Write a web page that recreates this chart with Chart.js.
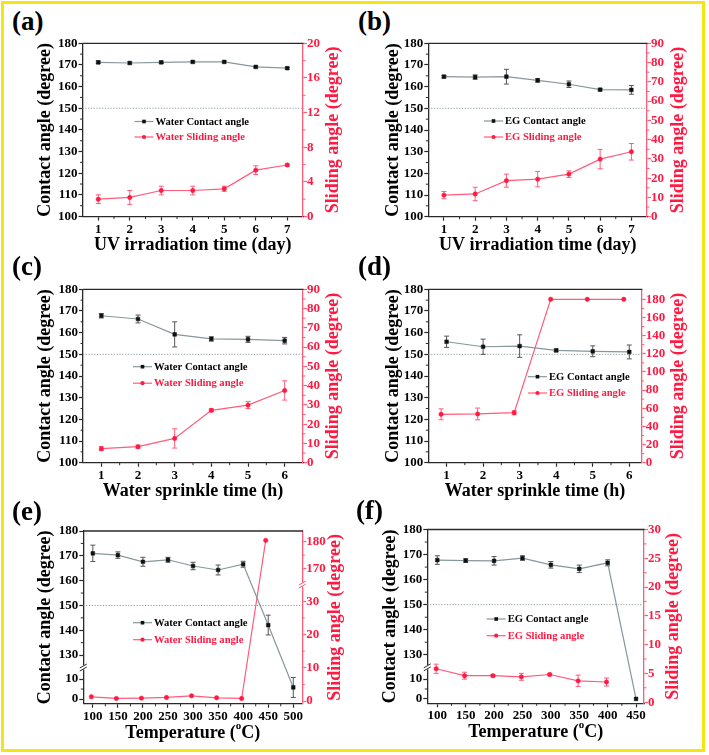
<!DOCTYPE html>
<html>
<head>
<meta charset="utf-8">
<script src="https://cdn.jsdelivr.net/npm/chart.js@4.4.1/dist/chart.umd.min.js"></script>
<style>
  body { margin: 0; background: #fff; }
  #fig { position: relative; width: 709px; height: 755px; overflow: hidden; background: #fff; }
  #fig canvas { position: absolute; }
  .lbl { position: absolute; font: bold 27px "Liberation Serif", "Times New Roman", serif; line-height: 1; color: #000; }
  #frame { position: absolute; left: 1px; top: 1px; width: 704px; height: 751px; box-sizing: border-box;
           border: 3.5px solid #f5e512; pointer-events: none; z-index: 5; }
</style>
</head>
<body>
<div id="fig"><div id="frame"></div></div>
<script>
const SERIF = '"Liberation Serif", "Times New Roman", serif';
const RED = '#ff1a42';
const RED_LINE = '#ff5c7a';
const GREY_LINE = '#87979a';
const INK = '#2a2a2a';

// ---- tick labels ----
const dayTicks = [1, 2, 3, 4, 5, 6, 7];
const hourTicks = [1, 2, 3, 4, 5, 6];
const tempTicksWater = [100, 150, 200, 250, 300, 350, 400, 450, 500];
const tempTicksEg = [100, 150, 200, 250, 300, 350, 400, 450];
const contactTicks = [100, 110, 120, 130, 140, 150, 160, 170, 180];
const contactTicksBroken = [0, 10, 130, 140, 150, 160, 170, 180];
const slideTicks20 = [0, 4, 8, 12, 16, 20];
const slideTicks90 = [0, 10, 20, 30, 40, 50, 60, 70, 80, 90];
const slideTicks180 = [0, 20, 40, 60, 80, 100, 120, 140, 160, 180];
const slideTicksBroken = [0, 10, 20, 30, 170, 180];
const slideTicks30 = [0, 5, 10, 15, 20, 25, 30];

// ---- (a) water, UV ----
const uvDays = [1, 2, 3, 4, 5, 6, 7];
const waterUvContact = [171.2, 170.9, 171.2, 171.4, 171.4, 169.1, 168.5];
const waterUvContactErr = [0.6, 0.5, 0.5, 0.4, 0.4, 0.4, 0.4];
const waterUvSliding = [2.0, 2.2, 3.0, 3.0, 3.2, 5.35, 5.95];
const waterUvSlidingErr = [0.5, 0.8, 0.5, 0.5, 0.3, 0.5, 0.1];

// ---- (b) EG, UV ----
const egUvContact = [164.6, 164.4, 164.6, 162.9, 161.1, 158.6, 158.5];
const egUvContactErr = [0.6, 1.0, 3.4, 0.8, 1.5, 0.5, 2.0];
const egUvSliding = [11.2, 11.8, 18.7, 19.5, 22.1, 29.9, 33.7];
const egUvSlidingErr = [1.9, 3.5, 3.4, 4.0, 1.7, 5.0, 4.3];

// ---- (c) water, sprinkle ----
const sprinkleHours = [1, 2, 3, 4, 5, 6];
const waterSprContact = [167.8, 166.3, 159.2, 157.1, 156.9, 156.3];
const waterSprContactErr = [1.0, 1.8, 5.8, 1.0, 1.4, 1.5];
const waterSprSliding = [7.3, 8.3, 12.6, 27.2, 29.9, 37.5];
const waterSprSlidingErr = [1.0, 0.8, 5.0, 0.8, 1.8, 5.0];

// ---- (d) EG, sprinkle ----
const egSprContact = [155.8, 153.5, 153.8, 151.8, 151.4, 151.1];
const egSprContactErr = [2.6, 3.5, 5.2, 0.6, 2.5, 3.2];
const egSprSlidingHours = [0.85, 1.85, 2.85, 3.85, 4.85, 5.85];
const egSprSliding = [53.3, 53.7, 55.1, 180, 180, 180];
const egSprSlidingErr = [6.0, 6.5, 2.2, 0, 0, 0];

// ---- (e) water, temperature ----
const tempsWater = [100, 150, 200, 250, 300, 350, 400, 450, 500];
const waterTempContact = [171.0, 170.3, 167.6, 168.4, 165.9, 164.3, 166.6, 142.1, 5.8];
const waterTempContactErr = [3.3, 1.3, 1.8, 1.0, 1.5, 2.0, 1.2, 4.0, 5.0];
const tempsWaterSliding = [97, 147, 197, 247, 297, 347, 397, 445];
const waterTempSliding = [1.3, 0.8, 0.9, 1.1, 1.6, 1.0, 0.8, 180.5];
const waterTempSlidingErr = [0, 0, 0, 0, 0, 0, 0, 0];

// ---- (f) EG, temperature ----
const tempsEg = [100, 150, 200, 250, 300, 350, 400, 450];
const egTempContact = [167.8, 167.6, 167.5, 168.6, 165.9, 164.3, 166.7, 0];
const egTempContactErr = [1.7, 0.7, 1.7, 0.9, 1.3, 1.5, 1.2, 0];
const tempsEgSliding = [98, 148, 198, 248, 298, 348, 398];
const egTempSliding = [5.8, 4.6, 4.6, 4.4, 4.8, 3.7, 3.5];
const egTempSlidingErr = [0.8, 0.6, 0.2, 0.6, 0.2, 1.0, 0.7];

// broken axes: value ranges and the share of the axis height each one takes
const BROKEN_SEGMENTS = {
  panelE: {
    y: [{ from: -2.4, to: 15.8, f0: 0, f1: 0.21 }, { from: 125, to: 180, f0: 0.21, f1: 1 }],
    y1: [{ from: -0.8, to: 35, f0: 0, f1: 0.69 }, { from: 164, to: 184, f0: 0.69, f1: 1 }]
  },
  panelF: {
    y: [{ from: -2.2, to: 15.9, f0: 0, f1: 0.207 }, { from: 125, to: 180, f0: 0.207, f1: 1 }]
  }
};

const LinearBase = Chart.LinearScale || Chart.registry.getScale('linear');
class BrokenScale extends LinearBase {
  segs() {
    const m = BROKEN_SEGMENTS[this.chart.canvas.id];
    return m && m[this.id];
  }
  getPixelForValue(value) {
    const segs = this.segs();
    if (value === null || value === undefined || !segs) return super.getPixelForValue(value);
    for (let i = 0; i < segs.length; i++) {
      const s = segs[i];
      if (value <= s.to || i === segs.length - 1) {
        const v = (i > 0 && value < s.from) ? s.from : value;
        return this.getPixelForDecimal(s.f0 + (v - s.from) / (s.to - s.from) * (s.f1 - s.f0));
      }
    }
  }
}
BrokenScale.id = 'broken';
BrokenScale.defaults = LinearBase.defaults;
Chart.register(BrokenScale);

const panels = [
  { id: 'panelA', letter: '(a)', lx: 12, ly: 7.5, cx: 0, cy: 0, w: 355, h: 265,
    L: 82.5, R: 303, T: 43.3, B: 216.5,
    xMin: 0.5, xMax: 7.5, xTicks: dayTicks, xTitle: 'UV irradiation time (day)', xTitleY: 245,
    yMin: 100, yMax: 180, yTicks: contactTicks, leftTitleX: 45.3,
    y1Min: 0, y1Max: 20, y1Ticks: slideTicks20, rightTitleX: 333.3,
    contact: { x: uvDays, y: waterUvContact, err: waterUvContactErr, label: 'Water Contact angle' },
    sliding: { x: uvDays, y: waterUvSliding, err: waterUvSlidingErr, label: 'Water Sliding angle' },
    legend: { x: 155.5, y: 121.5, gap: 15.5 } },
  { id: 'panelB', letter: '(b)', lx: 358, ly: 7.5, cx: 355, cy: 0, w: 354, h: 265,
    L: 428.3, R: 647, T: 43.3, B: 216.7,
    xMin: 0.5, xMax: 7.5, xTicks: dayTicks, xTitle: 'UV irradiation time (day)', xTitleY: 245,
    yMin: 100, yMax: 180, yTicks: contactTicks, leftTitleX: 393,
    y1Min: 0, y1Max: 90, y1Ticks: slideTicks90, rightTitleX: 678,
    contact: { x: uvDays, y: egUvContact, err: egUvContactErr, label: 'EG Contact angle' },
    sliding: { x: uvDays, y: egUvSliding, err: egUvSlidingErr, label: 'EG Sliding angle' },
    legend: { x: 505, y: 121, gap: 16 } },
  { id: 'panelC', letter: '(c)', lx: 12, ly: 253, cx: 0, cy: 250, w: 355, h: 262,
    L: 83, R: 303, T: 289.3, B: 462.7,
    xMin: 0.5, xMax: 6.5, xTicks: hourTicks, xTitle: 'Water sprinkle time (h)', xTitleY: 491.5,
    yMin: 100, yMax: 180, yTicks: contactTicks, leftTitleX: 45.5,
    y1Min: 0, y1Max: 90, y1Ticks: slideTicks90, rightTitleX: 333,
    contact: { x: sprinkleHours, y: waterSprContact, err: waterSprContactErr, label: 'Water Contact angle' },
    sliding: { x: sprinkleHours, y: waterSprSliding, err: waterSprSlidingErr, label: 'Water Sliding angle' },
    legend: { x: 154, y: 366.7, gap: 16.5 } },
  { id: 'panelD', letter: '(d)', lx: 358, ly: 253, cx: 355, cy: 250, w: 354, h: 262,
    L: 428.3, R: 641.7, T: 289.3, B: 462.7,
    xMin: 0.5, xMax: 6.34, xTicks: hourTicks, xTitle: 'Water sprinkle time (h)', xTitleY: 491.5,
    yMin: 100, yMax: 180, yTicks: contactTicks, leftTitleX: 393,
    y1Min: 0, y1Max: 191, y1Ticks: slideTicks180, rightTitleX: 678,
    contact: { x: sprinkleHours, y: egSprContact, err: egSprContactErr, label: 'EG Contact angle' },
    sliding: { x: egSprSlidingHours, y: egSprSliding, err: egSprSlidingErr, label: 'EG Sliding angle' },
    legend: { x: 549, y: 376.7, gap: 16.3 } },
  { id: 'panelE', letter: '(e)', lx: 12, ly: 498, cx: 0, cy: 495, w: 355, h: 260,
    L: 83.3, R: 302.3, T: 531, B: 703.8,
    xMin: 81, xMax: 518, xTicks: tempTicksWater, xTitle: null, xTitleY: 733,
    yMin: -2.4, yMax: 180, yTicks: contactTicksBroken, leftTitleX: 45, yBroken: true,
    y1Min: -0.8, y1Max: 184, y1Ticks: slideTicksBroken, rightTitleX: 335, y1Broken: true,
    contact: { x: tempsWater, y: waterTempContact, err: waterTempContactErr, label: 'Water Contact angle' },
    sliding: { x: tempsWaterSliding, y: waterTempSliding, err: waterTempSlidingErr, label: 'Water Sliding angle' },
    legend: { x: 154, y: 622.7, gap: 17 } },
  { id: 'panelF', letter: '(f)', lx: 356, ly: 497, cx: 355, cy: 495, w: 354, h: 260,
    L: 427.3, R: 644, T: 529.5, B: 703.3,
    xMin: 82.4, xMax: 464, xTicks: tempTicksEg, xTitle: null, xTitleY: 732.5,
    yMin: -2.2, yMax: 180, yTicks: contactTicksBroken, leftTitleX: 390, yBroken: true,
    y1Min: -0.2, y1Max: 30, y1Ticks: slideTicks30, rightTitleX: 673,
    contact: { x: tempsEg, y: egTempContact, err: egTempContactErr, label: 'EG Contact angle' },
    sliding: { x: tempsEgSliding, y: egTempSliding, err: egTempSlidingErr, label: 'EG Sliding angle' },
    legend: { x: 507.7, y: 619, gap: 16.7 } }
];

function toPoints(xs, ys) {
  return ys.map((y, i) => ({ x: xs[i], y: y }));
}

function minorValues(ticks) {
  const diffs = [];
  for (let i = 1; i < ticks.length; i++) diffs.push(ticks[i] - ticks[i - 1]);
  const step = Math.min.apply(null, diffs);
  const out = [];
  for (let i = 1; i < ticks.length; i++) {
    if (ticks[i] - ticks[i - 1] === step) out.push((ticks[i] + ticks[i - 1]) / 2);
  }
  return out;
}

function breakMark(ctx, x, y, color) {
  ctx.fillStyle = '#fff';
  ctx.fillRect(x - 2, y - 2, 4, 4);
  ctx.strokeStyle = color;
  ctx.lineWidth = 1;
  ctx.beginPath();
  ctx.moveTo(x - 3.5, y + 0.5); ctx.lineTo(x + 3.5, y - 3.5);
  ctx.moveTo(x - 3.5, y + 3.5); ctx.lineTo(x + 3.5, y - 0.5);
  ctx.stroke();
}

function decorPlugin(p) {
  return {
    id: 'decor' + p.id,
    beforeDatasetsDraw(chart) {
      const { ctx, chartArea: a, scales } = chart;
      ctx.save();
      // 150 degree reference line
      const y150 = scales.y.getPixelForValue(150);
      ctx.strokeStyle = '#8e9b9b';
      ctx.lineWidth = 1;
      ctx.setLineDash([1.2, 1.6]);
      ctx.beginPath(); ctx.moveTo(a.left, y150); ctx.lineTo(a.right, y150); ctx.stroke();
      ctx.setLineDash([]);
      // error bars
      chart.data.datasets.forEach(ds => {
        const ys = scales[ds.yAxisID];
        ctx.strokeStyle = ds.errColor;
        ctx.lineWidth = 1;
        ds.data.forEach((pt, j) => {
          const e = ds.err[j];
          if (!e) return;
          const x = scales.x.getPixelForValue(pt.x);
          const y0 = ys.getPixelForValue(pt.y - e);
          const y1 = ys.getPixelForValue(pt.y + e);
          ctx.beginPath();
          ctx.moveTo(x, y0); ctx.lineTo(x, y1);
          ctx.moveTo(x - 2.5, y0); ctx.lineTo(x + 2.5, y0);
          ctx.moveTo(x - 2.5, y1); ctx.lineTo(x + 2.5, y1);
          ctx.stroke();
        });
      });
      ctx.restore();
    },
    afterDraw(chart) {
      const { ctx, chartArea: a, scales } = chart;
      ctx.save();
      // top frame
      ctx.strokeStyle = INK;
      ctx.lineWidth = 1.3;
      ctx.beginPath(); ctx.moveTo(a.left, a.top); ctx.lineTo(a.right + 0.6, a.top); ctx.stroke();

      // minor ticks
      ctx.lineWidth = 1;
      ctx.strokeStyle = INK;
      ctx.beginPath();
      minorValues(p.xTicks).forEach(v => {
        const x = scales.x.getPixelForValue(v);
        ctx.moveTo(x, a.bottom); ctx.lineTo(x, a.bottom + 2.5);
      });
      minorValues(p.yTicks).forEach(v => {
        const y = scales.y.getPixelForValue(v);
        ctx.moveTo(a.left, y); ctx.lineTo(a.left - 2.5, y);
      });
      ctx.stroke();
      ctx.strokeStyle = RED_LINE;
      ctx.beginPath();
      minorValues(p.y1Ticks).forEach(v => {
        const y = scales.y1.getPixelForValue(v);
        ctx.moveTo(a.right, y); ctx.lineTo(a.right + 2.5, y);
      });
      ctx.stroke();

      // axis breaks
      const segs = BROKEN_SEGMENTS[p.id];
      if (segs && segs.y) breakMark(ctx, a.left, a.bottom - segs.y[0].f1 * (a.bottom - a.top), INK);
      if (segs && segs.y1) breakMark(ctx, a.right, a.bottom - segs.y1[0].f1 * (a.bottom - a.top), RED_LINE);

      // legend inside the plot
      const lx = p.legend.x - p.cx;
      chart.data.datasets.forEach((ds, i) => {
        const y = p.legend.y - p.cy + i * p.legend.gap;
        ctx.strokeStyle = ds.borderColor;
        ctx.lineWidth = 1.2;
        ctx.beginPath(); ctx.moveTo(lx - 21, y); ctx.lineTo(lx - 2, y); ctx.stroke();
        ctx.fillStyle = ds.pointBackgroundColor;
        if (ds.pointStyle === 'rect') {
          ctx.fillRect(lx - 13.3, y - 1.8, 3.6, 3.6);
        } else {
          ctx.beginPath(); ctx.arc(lx - 11.5, y, 2.1, 0, Math.PI * 2); ctx.fill();
        }
        ctx.font = 'bold 10.6px ' + SERIF;
        ctx.textAlign = 'left';
        ctx.textBaseline = 'middle';
        ctx.fillStyle = ds.legendColor;
        ctx.fillText(ds.label, lx, y + 0.5);
      });

      // right axis title, reading bottom to top
      ctx.save();
      ctx.translate(p.rightTitleX - p.cx, (a.top + a.bottom) / 2);
      ctx.rotate(-Math.PI / 2);
      ctx.font = 'bold 18px ' + SERIF;
      ctx.fillStyle = RED;
      ctx.textAlign = 'center';
      ctx.textBaseline = 'middle';
      ctx.fillText('Sliding angle (degree)', 0, 0);
      ctx.restore();

      // temperature title with superscript o
      if (!p.xTitle) {
        const big = 'bold 18px ' + SERIF, small = 'bold 11px ' + SERIF;
        const parts = [['Temperature (', big, 0], ['o', small, -7], ['C)', big, 0]];
        let total = 0;
        parts.forEach(pt => { ctx.font = pt[1]; total += ctx.measureText(pt[0]).width; });
        let x = (a.left + a.right) / 2 - total / 2;
        const yb = p.xTitleY - p.cy;
        ctx.fillStyle = '#000';
        ctx.textAlign = 'left';
        ctx.textBaseline = 'middle';
        parts.forEach(pt => {
          ctx.font = pt[1];
          ctx.fillText(pt[0], x, yb + pt[2]);
          x += ctx.measureText(pt[0]).width;
        });
      }
      ctx.restore();
    }
  };
}

const fig = document.getElementById('fig');

panels.forEach(p => {
  const lab = document.createElement('div');
  lab.className = 'lbl';
  lab.style.left = p.lx + 'px';
  lab.style.top = p.ly + 'px';
  lab.textContent = p.letter;
  fig.appendChild(lab);

  const cv = document.createElement('canvas');
  cv.id = p.id;
  cv.width = p.w;
  cv.height = p.h;
  cv.style.left = p.cx + 'px';
  cv.style.top = p.cy + 'px';
  fig.appendChild(cv);

  const tickFont = { family: SERIF, size: 13, weight: 'bold' };
  const titleFont = { family: SERIF, size: 18, weight: 'bold', lineHeight: 1 };
  const leftW = p.L - p.cx;
  const rightW = p.cx + p.w - p.R;
  const bottomH = p.cy + p.h - p.B;

  new Chart(cv, {
    type: 'line',
    data: {
      datasets: [
        { label: p.contact.label, data: toPoints(p.contact.x, p.contact.y), err: p.contact.err,
          yAxisID: 'y', borderColor: GREY_LINE, borderWidth: 1.2, tension: 0,
          pointStyle: 'rect', pointRadius: 2.6, pointBackgroundColor: '#111', pointBorderColor: '#111',
          pointBorderWidth: 0.5, errColor: '#555', legendColor: '#000' },
        { label: p.sliding.label, data: toPoints(p.sliding.x, p.sliding.y), err: p.sliding.err,
          yAxisID: 'y1', borderColor: RED_LINE, borderWidth: 1.2, tension: 0,
          pointStyle: 'circle', pointRadius: 2.2, pointBackgroundColor: RED, pointBorderColor: RED,
          pointBorderWidth: 0.5, errColor: RED_LINE, legendColor: RED }
      ]
    },
    options: {
      responsive: false,
      animation: false,
      layout: { padding: { top: p.T - p.cy, left: 0, right: 0, bottom: 0 } },
      plugins: { legend: { display: false }, tooltip: { enabled: false } },
      scales: {
        x: {
          type: 'linear', position: 'bottom', min: p.xMin, max: p.xMax,
          afterBuildTicks: s => { s.ticks = p.xTicks.map(v => ({ value: v })); },
          afterFit: s => { s.height = bottomH; },
          ticks: { font: tickFont, color: '#000', padding: 1, autoSkip: false, maxRotation: 0 },
          grid: { drawOnChartArea: false, color: INK, tickLength: 4, tickWidth: 1.2 },
          border: { color: INK, width: 1.3 },
          title: { display: !!p.xTitle, text: p.xTitle || '', font: titleFont, color: '#000',
                   padding: { top: 0, bottom: p.cy + p.h - p.xTitleY - 9 } }
        },
        y: {
          type: p.yBroken ? 'broken' : 'linear', position: 'left', min: p.yMin, max: p.yMax,
          afterBuildTicks: s => { s.ticks = p.yTicks.map(v => ({ value: v })); },
          afterFit: s => { s.width = leftW; },
          ticks: { font: tickFont, color: '#000', padding: 1 },
          grid: { drawOnChartArea: false, color: INK, tickLength: 4, tickWidth: 1.2 },
          border: { color: INK, width: 1.3 },
          title: { display: true, text: 'Contact angle (degree)', font: titleFont, color: '#000',
                   padding: { top: p.leftTitleX - p.cx - 9, bottom: 0 } }
        },
        y1: {
          type: p.y1Broken ? 'broken' : 'linear', position: 'right', min: p.y1Min, max: p.y1Max,
          afterBuildTicks: s => { s.ticks = p.y1Ticks.map(v => ({ value: v })); },
          afterFit: s => { s.width = rightW; },
          ticks: { font: tickFont, color: RED, padding: 0 },
          grid: { drawOnChartArea: false, color: RED_LINE, tickLength: 4, tickWidth: 1.2 },
          border: { color: RED_LINE, width: 1.3 }
        }
      }
    },
    plugins: [decorPlugin(p)]
  });
});
</script>
</body>
</html>
